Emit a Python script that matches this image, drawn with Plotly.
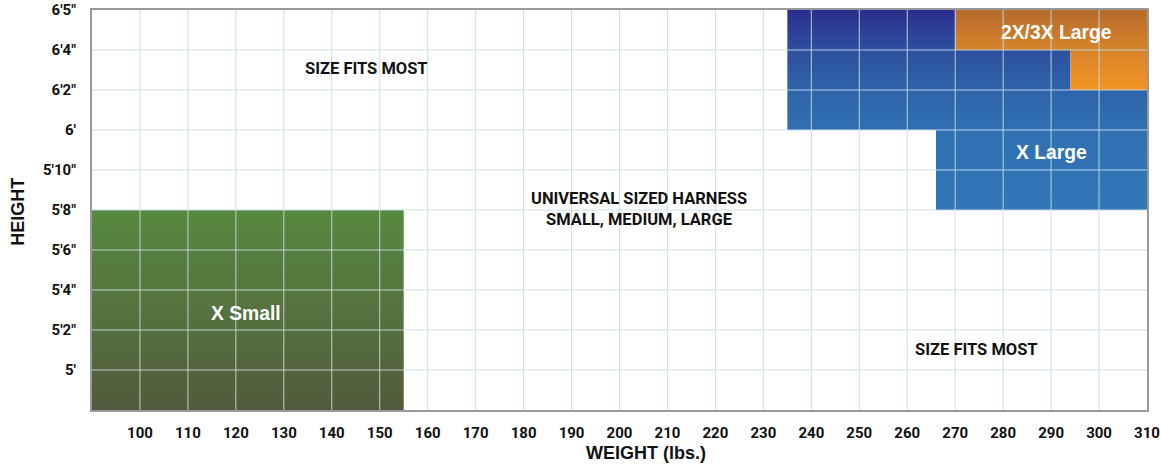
import plotly.graph_objects as go

# ---- data ----
weight_ticks = list(range(100, 311, 10))
weight_range = [90, 310]

height_labels = ["5′", "5′2″", "5′4″", "5′6″", "5′8″", "5′10″", "6′", "6′2″", "6′4″", "6′5″"]
height_rows = [1, 2, 3, 4, 5, 6, 7, 8, 9, 10]   # row index of each height label
height_range = [0, 10]

# size regions as polygons (weight lbs, height row index)
xsmall_w = [90, 155, 155, 90]
xsmall_h = [0, 0, 5, 5]
xlarge_w = [235, 266, 266, 310, 310, 294, 294, 270, 270, 235]
xlarge_h = [7, 7, 5, 5, 8, 8, 9, 9, 10, 10]
xxl_w = [270, 310, 310, 294, 294, 270]
xxl_h = [10, 10, 8, 8, 9, 9]

region_labels = ["X Small", "X Large", "2X/3X Large"]
plain_labels = ["SIZE FITS MOST", "UNIVERSAL SIZED HARNESS<br>SMALL, MEDIUM, LARGE", "SIZE FITS MOST"]

# ---- styles ----
green_scale = [[0, "#515a3b"], [0.4, "#556f3e"], [0.8, "#567f40"], [1, "#578a3f"]]
blue_scale = [[0, "#3277b7"], [0.4, "#3070b2"], [0.6, "#2e63aa"], [0.8, "#2d4f9e"], [1, "#2b2f8f"]]
orange_scale = [[0, "#f39624"], [0.5, "#d8832a"], [1, "#b56c2b"]]

NARROW = "Roboto, Liberation Sans, sans-serif"
WIDE = "Liberation Sans, Arial, sans-serif"
GRID = "rgba(200,220,230,0.9)"

fig = go.Figure()
for xs, ys, cs in [(xsmall_w, xsmall_h, green_scale),
                   (xlarge_w, xlarge_h, blue_scale),
                   (xxl_w, xxl_h, orange_scale)]:
    fig.add_trace(go.Scatter(
        x=xs, y=ys, fill="toself", mode="none",
        fillgradient=dict(type="vertical", colorscale=cs),
        hoverinfo="skip", showlegend=False))

shapes = []
for w in weight_ticks:
    if weight_range[0] < w < weight_range[1]:
        shapes.append(dict(type="line", xref="x", yref="y", x0=w, x1=w,
                           y0=height_range[0], y1=height_range[1],
                           line=dict(color=GRID, width=1), layer="above"))
for r in height_rows:
    if height_range[0] < r < height_range[1]:
        shapes.append(dict(type="line", xref="x", yref="y", x0=weight_range[0], x1=weight_range[1],
                           y0=r, y1=r, line=dict(color=GRID, width=1), layer="above"))

annotations = [
    dict(x=147.3, y=8.55, text=plain_labels[0]),
    dict(x=204.1, y=5.03, text=plain_labels[1]),
    dict(x=274.5, y=1.525, text=plain_labels[2]),
]
for a in annotations:
    a.update(xref="x", yref="y", showarrow=False, xanchor="center", yanchor="middle",
             font=dict(family=NARROW, size=16.5, color="#111111", weight="bold"))
for t, x, y in zip(region_labels, [122.1, 290.0, 291.2], [2.425, 6.45, 9.44]):
    annotations.append(dict(x=x, y=y, text=t, xref="x", yref="y", showarrow=False,
                            xanchor="center", yanchor="middle",
                            font=dict(family=WIDE, size=19.3, color="white", weight="bold")))
annotations.append(dict(x=-0.0701, y=0.496, xref="paper", yref="paper", text="HEIGHT",
                        textangle=-90, showarrow=False, xanchor="center", yanchor="middle",
                        font=dict(family=WIDE, size=18, color="#111111", weight="bold")))
annotations.append(dict(x=0.5, y=-0.108, xref="paper", yref="paper", text="WEIGHT (lbs.)",
                        xshift=26, showarrow=False, xanchor="center", yanchor="middle",
                        font=dict(family=WIDE, size=18, color="#111111", weight="bold")))

fig.update_layout(
    width=1161, height=465,
    margin=dict(l=92, r=14, t=10, b=55, autoexpand=False),
    plot_bgcolor="white", paper_bgcolor="white",
    shapes=shapes, annotations=annotations,
    xaxis=dict(range=weight_range, tickvals=weight_ticks, showgrid=False, zeroline=False,
               showline=True, mirror=True, linecolor="#999999", linewidth=2,
               ticks="", ticklabelstandoff=8, automargin=False,
               tickfont=dict(family=NARROW, size=15, color="#111111", weight="bold")),
    yaxis=dict(range=height_range, tickvals=height_rows, ticktext=height_labels,
               showgrid=False, zeroline=False,
               showline=True, mirror=True, linecolor="#999999", linewidth=2,
               ticks="", ticklabelstandoff=11, automargin=False,
               tickfont=dict(family=NARROW, size=15, color="#111111", weight="bold")),
)

fig.write_html("out.html", config={"displayModeBar": False},
               post_script="document.body.style.margin='0';document.body.style.overflow='hidden';")
